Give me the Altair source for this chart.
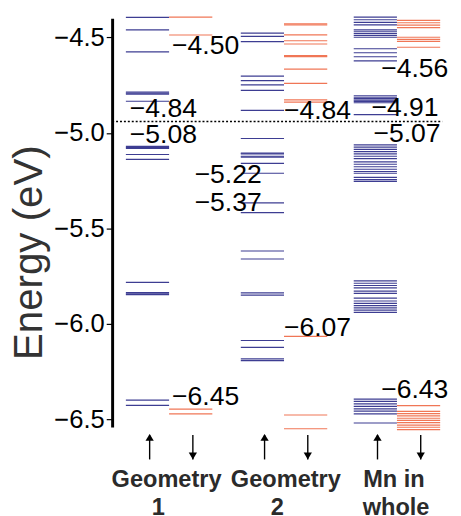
import altair as alt
import pandas as pd

# ---------------- data: energy levels (eV) ----------------
g1_up = [-4.395, -4.460, -4.575, -4.786, -4.792, -4.797, -4.834,
         -5.070, -5.076, -5.081, -5.113, -5.138,
         -5.782, -5.836, -5.842, -5.847, -6.399, -6.427]
g1_down = [-4.393, -4.487, -6.446, -6.471]

g2_up = [-4.477, -4.494, -4.522, -4.702, -4.726, -4.748, -4.777, -4.882,
         -5.029, -5.106, -5.110, -5.122, -5.127, -5.159, -5.211, -5.366, -5.417,
         -5.618, -5.660, -5.837, -5.849, -6.087, -6.123, -6.183, -6.192]
g2_down = [-4.428, -4.434, -4.486, -4.517, -4.534, -4.595, -4.600, -4.666,
           -4.740, -4.827, -4.839, -6.065, -6.477, -6.549]

mn_up = [-4.393, -4.407, -4.421, -4.434,
         -4.460, -4.470, -4.479, -4.489, -4.499,
         -4.559, -4.580, -4.601, -4.623,
         -4.805, -4.813, -4.820, -4.828, -4.835, -4.842,
         -4.904,
         -5.062, -5.074, -5.086, -5.098, -5.110, -5.122, -5.134,
         -5.151, -5.164, -5.177, -5.190, -5.202, -5.211,
         -5.233, -5.244, -5.254,
         -5.775, -5.787, -5.799, -5.811, -5.828, -5.840, -5.865, -5.880,
         -5.892, -5.904, -5.916, -5.928, -5.940,
         -6.394, -6.406, -6.419, -6.432, -6.445, -6.457, -6.471, -6.519]
mn_down = [-4.410, -4.423, -4.435, -4.448,
           -4.499, -4.510, -4.520, -4.551,
           -6.428, -6.458, -6.470, -6.482, -6.494, -6.505, -6.517,
           -6.530, -6.541, -6.554]

fermi_level = -4.94

label_texts = ["−4.84", "−5.08", "−4.50", "−6.45", "−5.22", "−5.37",
               "−4.84", "−6.07", "−4.91", "−5.07", "−4.56", "−6.43"]
label_energy = [-4.868, -5.005, -4.539, -6.375, -5.211, -5.362,
                -4.878, -6.015, -4.863, -4.997, -4.657, -6.339]

group_line1 = ["Geometry", "Geometry", "Mn in"]
group_line2 = ["1", "2", "whole"]
tick_values = [-6.5, -6.0, -5.5, -5.0, -4.5]

# ---------------- layout (column units, 1 = one spin column) ----------------
GROUP_START = [0.318, 2.977, 5.59]
X_MAX = 7.705
FERMI_END = 7.64
label_x = [0.409, 0.409, 1.386, 1.386, 1.909, 1.909,
           3.977, 3.977, 6.0, 6.045, 6.227, 6.227]
line1_x = [1.26, 4.02, 6.52]
line2_x = [1.07, 3.82, 6.57]

levels = []
for g, (up, dn) in enumerate([(g1_up, g1_down), (g2_up, g2_down), (mn_up, mn_down)]):
    for spin, arr, off in (("up", up, 0.0), ("down", dn, 1.0)):
        for e in arr:
            x0 = GROUP_START[g] + off
            levels.append({"x0": x0, "x1": x0 + 1.0, "E": e, "spin": spin})
levels_df = pd.DataFrame(levels)

fermi_df = pd.DataFrame({"x0": [0.0], "x1": [FERMI_END], "E": [fermi_level]})
labels_df = pd.DataFrame({"x0": label_x, "E": label_energy, "t": label_texts})

arrows = []
for g in range(3):
    arrows.append({"x0": GROUP_START[g] + 0.55, "dir": "up"})
    arrows.append({"x0": GROUP_START[g] + 1.55, "dir": "down"})
arrows_df = pd.DataFrame(arrows)

line1_df = pd.DataFrame({"x0": line1_x, "t": group_line1})
line2_df = pd.DataFrame({"x0": line2_x, "t": group_line2})

xs = alt.Scale(domain=[0, X_MAX], nice=False, zero=False)
ys = alt.Scale(domain=[-6.54, -4.40], nice=False, zero=False)

yaxis = alt.Axis(values=tick_values, format=".1f", grid=False,
                 labelFont="Liberation Sans", labelFontSize=26, labelColor="black",
                 labelPadding=2, tickSize=6, tickColor="black", tickWidth=1.2,
                 domainColor="black", domainWidth=3,
                 title="Energy (eV)", titleFont="Liberation Sans", titleFontSize=41,
                 titleFontWeight="normal", titleColor="#333333", titleAngle=270,
                 titleX=-72, titleY=238, titleAlign="center", titleBaseline="alphabetic")

def Y():
    return alt.Y("E:Q", scale=ys, axis=yaxis)

def X():
    return alt.X("x0:Q", scale=xs, axis=None)

level_layer = alt.Chart(levels_df).mark_rule(strokeWidth=1.2).encode(
    x=X(), x2="x1:Q", y=Y(),
    color=alt.Color("spin:N", scale=alt.Scale(domain=["up", "down"],
                                              range=["#3d3d92", "#f07656"]), legend=None))

fermi_layer = alt.Chart(fermi_df).mark_rule(strokeDash=[2, 2], strokeWidth=1.6, color="black").encode(
    x=X(), x2="x1:Q", y=Y())

label_layer = alt.Chart(labels_df).mark_text(
    align="left", baseline="middle", font="Liberation Sans", fontSize=27,
    color="black", dy=1.5).encode(x=X(), y=Y(), text="t:N")

shaft_layer = alt.Chart(arrows_df).mark_rule(strokeWidth=1.4, color="black").encode(
    x=X(), y=alt.value(424), y2=alt.value(449))

up_head = alt.Chart(arrows_df).transform_filter(alt.datum.dir == "up").mark_point(
    shape="M0,0 L0.6,1 L-0.6,1 Z", filled=True, opacity=1, color="black", size=196).encode(
    x=X(), y=alt.value(423))

down_head = alt.Chart(arrows_df).transform_filter(alt.datum.dir == "down").mark_point(
    shape="M0,0 L0.6,-1 L-0.6,-1 Z", filled=True, opacity=1, color="black", size=196).encode(
    x=X(), y=alt.value(449))

text1 = alt.Chart(line1_df).mark_text(
    align="center", baseline="alphabetic", font="Liberation Sans", fontSize=24,
    fontWeight="bold", color="#2b2b2b").encode(x=X(), y=alt.value(477), text="t:N")
text2 = alt.Chart(line2_df).mark_text(
    align="center", baseline="alphabetic", font="Liberation Sans", fontSize=24,
    fontWeight="bold", color="#2b2b2b").encode(x=X(), y=alt.value(506), text="t:N")

chart = alt.layer(level_layer, fermi_layer, label_layer, shaft_layer, up_head,
                  down_head, text1, text2).properties(
    width=339, height=416,
    padding={"left": 106, "top": 6, "right": 8, "bottom": 86},
    autosize=alt.AutoSizeParams(type="none"),
).configure_view(stroke=None)

chart.save("out.html", embed_options={"renderer": "svg", "actions": False})
